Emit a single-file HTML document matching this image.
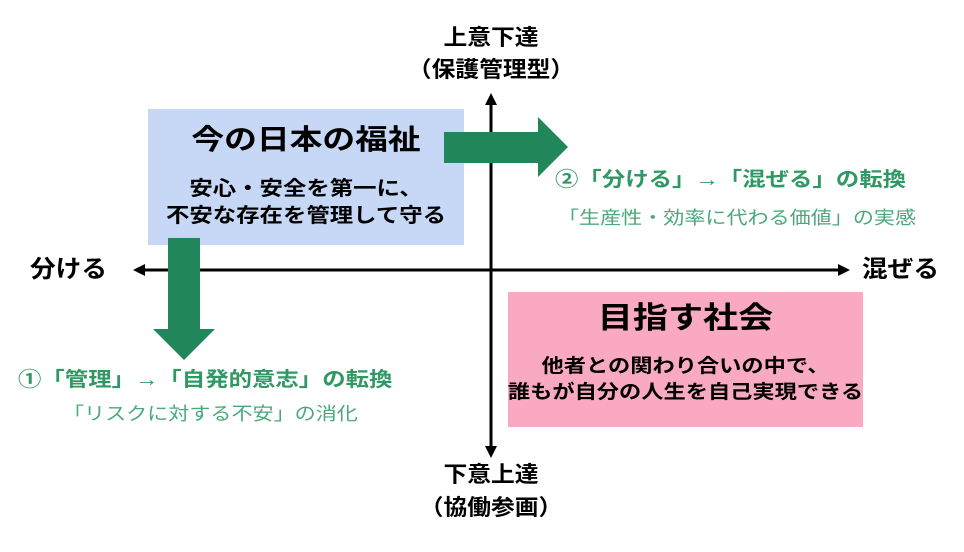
<!DOCTYPE html>
<html><head><meta charset="utf-8"><style>
body{margin:0;width:964px;height:552px;background:#fff;position:relative;overflow:hidden;font-family:"Liberation Sans","Noto Sans CJK JP",sans-serif;}
.t{position:absolute;white-space:nowrap;line-height:1;}
.b{font-weight:bold;}
.c{transform:scaleX(1.17);transform-origin:center;}
.l{transform:scaleX(1.17);transform-origin:left;}
</style></head><body>
<div style="position:absolute;left:148px;top:109px;width:316px;height:136px;background:#c6d8f5;"></div>
<div style="position:absolute;left:508px;top:292px;width:355px;height:135px;background:#f9a9c1;"></div>
<svg width="964" height="552" style="position:absolute;left:0;top:0">
<line x1="140" y1="270" x2="840" y2="270" stroke="#000" stroke-width="3"/>
<polygon points="133,270 145,264 145,276" fill="#000"/>
<polygon points="850,270 838,264 838,276" fill="#000"/>
<line x1="491" y1="100" x2="491" y2="450" stroke="#000" stroke-width="3"/>
<polygon points="491,93 485,105 497,105" fill="#000"/>
<polygon points="491,458 485,446 497,446" fill="#000"/>
<polygon points="444,132 538,132 538,117 568,147 538,177 538,163 444,163" fill="#21875a"/>
<polygon points="168,238 200,238 200,329 215,329 184,360 153,329 168,329" fill="#21875a"/>
</svg>
<div class="t b c" style="left:148px;width:316px;text-align:center;top:126px;font-size:28px;">今の日本の福祉</div>
<div class="t b c" style="left:148px;width:316px;text-align:center;top:179px;font-size:20px;">安心・安全を第一に、</div>
<div class="t b c" style="left:148px;width:316px;text-align:center;top:206px;font-size:20px;">不安な存在を管理して守る</div>
<div class="t b c" style="left:508px;width:355px;text-align:center;top:304px;font-size:30px;">目指す社会</div>
<div class="t b c" style="left:508px;width:355px;text-align:center;top:357px;font-size:19px;">他者との関わり合いの中で、</div>
<div class="t b c" style="left:508px;width:355px;text-align:center;top:383px;font-size:19px;">誰もが自分の人生を自己実現できる</div>
<div class="t b l" style="left:30px;top:258px;font-size:24px;transform:scaleX(1.07);">分ける</div>
<div class="t b l" style="left:862px;top:258px;font-size:24px;transform:scaleX(1.07);">混ぜる</div>
<div class="t b c" style="left:391px;width:200px;text-align:center;top:27px;font-size:22px;transform:scaleX(1.08);">上意下達</div>
<div class="t b c" style="left:391px;width:200px;text-align:center;top:59px;font-size:22px;transform:scaleX(1.08);">（保護管理型）</div>
<div class="t b c" style="left:391px;width:200px;text-align:center;top:464px;font-size:22px;transform:scaleX(1.08);">下意上達</div>
<div class="t b c" style="left:391px;width:200px;text-align:center;top:497px;font-size:22px;transform:scaleX(1.08);">（協働参画）</div>
<div class="t b l" style="left:18px;top:370px;font-size:20px;color:#2f9865;">①「管理」→「自発的意志」の転換</div>
<div class="t l" style="left:63px;top:405px;font-size:18px;color:#4aa87a;">「リスクに対する不安」の消化</div>
<div class="t b l" style="left:555px;top:170px;font-size:20px;color:#2f9865;">②「分ける」→「混ぜる」の転換</div>
<div class="t l" style="left:558px;top:209px;font-size:18px;color:#4aa87a;">「生産性・効率に代わる価値」の実感</div>
</body></html>
